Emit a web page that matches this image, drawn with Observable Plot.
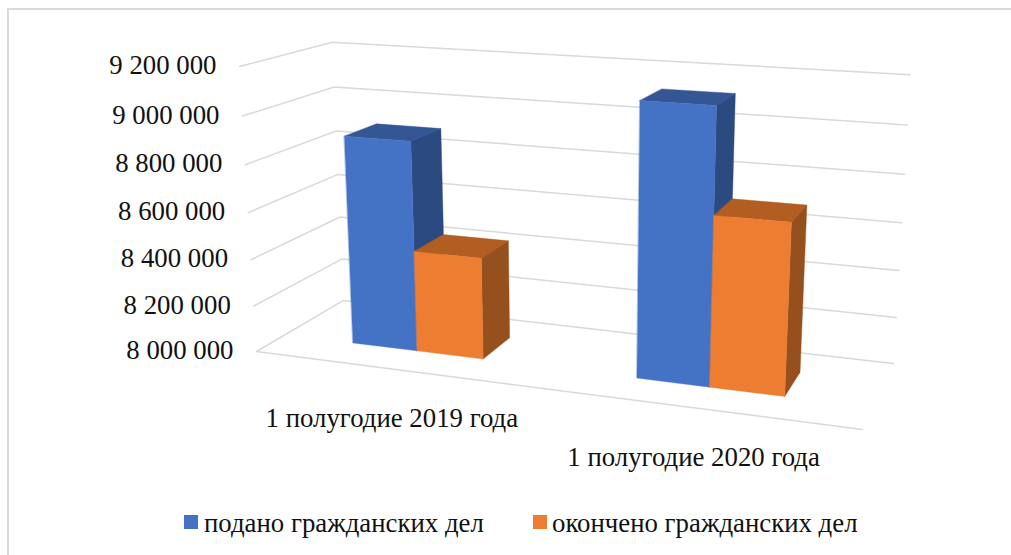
<!DOCTYPE html>
<html>
<head>
<meta charset="utf-8">
<script src="https://cdn.jsdelivr.net/npm/d3@7"></script>
<script src="https://cdn.jsdelivr.net/npm/@observablehq/plot@0.6"></script>
<style>
html,body{margin:0;padding:0;background:#fff;}
#wrap{position:relative;width:1011px;height:555px;overflow:hidden;font-family:"Liberation Serif",serif;color:#111;}
#frame{position:absolute;left:7px;top:8px;right:-4px;bottom:-4px;border-left:2px solid #dadada;border-top:2px solid #dadada;}
#chart{position:absolute;left:0;top:0;}
#legend{position:absolute;left:0;top:500px;width:1011px;height:55px;}
.sw{position:absolute;top:15px;width:14px;height:14px;}
.lb{position:absolute;top:7px;font-size:26.8px;line-height:32px;white-space:nowrap;}
</style>
</head>
<body>
<div id="wrap">
  <div id="frame"></div>
  <div id="chart"></div>
  <div id="legend"></div>
</div>
<script>
const categories = ["1 полугодие 2019 года", "1 полугодие 2020 года"];
const seriesNames = ["подано гражданских дел", "окончено гражданских дел"];
const filed = [8897000, 9124000];
const finished = [8434000, 8699000];
const yTicks = [8000000, 8200000, 8400000, 8600000, 8800000, 9000000, 9200000];
const tickLabels = ["8 000 000", "8 200 000", "8 400 000", "8 600 000", "8 800 000", "9 000 000", "9 200 000"];

// Perspective camera of the 3-D plot box: u along categories, v depth, w height
const cam = {a:499.6,b:124.3,p:-28.95,c:256, d:25.1,e:-18.4,q:-288.3,f:351, g:-0.1234,h:0.1088,i:-0.05};
function project(u, v, w) {
  const k = cam.g*u + cam.h*v + cam.i*w + 1;
  return [(cam.a*u + cam.b*v + cam.p*w + cam.c)/k, (cam.d*u + cam.e*v + cam.q*w + cam.f)/k];
}
const wOf = val => (val - yTicks[0]) / (yTicks[yTicks.length-1] - yTicks[0]);

// bar footprint in box coordinates
const barW = 0.1185, catCentre = [0.247, 0.747], v0 = 0.31, v1 = 0.69;
const palette = [
  {front:"#4472c4", top:"#345694", side:"#2b4a80"},
  {front:"#ed7d31", top:"#b25d22", side:"#96501d"}
];

// gridlines: one polyline per tick (left wall, then back wall)
const grid = yTicks.flatMap((t,i) => {
  const w = wOf(t);
  return [[0,0,w],[0,1,w],[1,1,w]].map(c => ({id:i, pos:project(...c)}));
});
const frontEdge = [[0,0,0],[1,0,0]].map(c => ({pos:project(...c)}));

// bar polygons in paint order
const polys = [];
function addPoly(id, fill, corners){ corners.forEach(c => polys.push({id, fill, pos:project(...c)})); }
categories.forEach((cat,ci) => {
  [filed, finished].forEach((vals,si) => {
    const u0 = catCentre[ci] + (si-1)*barW, u1 = u0 + barW, w = wOf(vals[ci]);
    const col = palette[si], key = `${ci}-${si}`;
    addPoly(key+"t", col.top, [[u0,v0,w],[u1,v0,w],[u1,v1,w],[u0,v1,w]]);
    addPoly(key+"s", col.side, [[u1,v0,0],[u1,v1,0],[u1,v1,w],[u1,v0,w]]);
    addPoly(key+"f", col.front, [[u0,v0,0],[u1,v0,0],[u1,v0,w],[u0,v0,w]]);
  });
});

const tickText = yTicks.map((t,i) => ({label:tickLabels[i], pos:project(0,0,wOf(t))}));
const catText = categories.map((c,i) => ({label:c, pos:project(catCentre[i],0,0)}));
const X = d => d.pos[0], Y = d => d.pos[1];

const svg = Plot.plot({
  width:1011, height:500, margin:0,
  x:{domain:[0,1011], range:[0,1011], axis:null},
  y:{domain:[0,500], range:[0,500], axis:null},
  style:{background:"transparent", fontFamily:"'Liberation Serif',serif", overflow:"visible"},
  marks:[
    Plot.line(grid,{x:X,y:Y,z:"id",stroke:"#d9d9d9",strokeWidth:1.5,curve:"linear"}),
    Plot.line(frontEdge,{x:X,y:Y,stroke:"#d9d9d9",strokeWidth:1.5}),
    Plot.line(polys,{x:X,y:Y,z:"id",fill:"fill",stroke:"fill",strokeWidth:0.4,curve:"linear-closed"}),
    Plot.text(tickText,{x:X,y:Y,text:"label",textAnchor:"end",dx:-23,dy:-1,fontSize:26.8,fill:"#111"}),
    Plot.text(catText,{x:X,y:Y,text:"label",textAnchor:"middle",dy:49.5,fontSize:26.8,fill:"#111"})
  ]
});
document.getElementById("chart").appendChild(svg);

const legend = document.getElementById("legend");
const lx = [[184,204],[533,552]];
seriesNames.forEach((s,i) => {
  const sw = document.createElement("div"); sw.className="sw"; sw.style.left=lx[i][0]+"px"; sw.style.background=palette[i].front;
  const lb = document.createElement("div"); lb.className="lb"; lb.style.left=lx[i][1]+"px"; lb.textContent=s;
  legend.append(sw,lb);
});
</script>
</body>
</html>
